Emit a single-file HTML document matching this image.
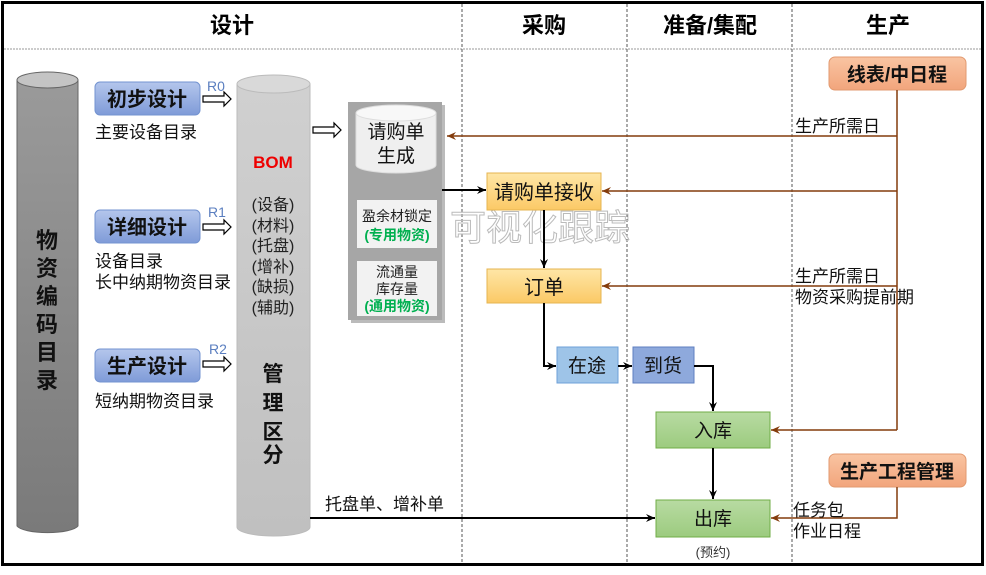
<!DOCTYPE html>
<html><head><meta charset="utf-8"><style>
body{margin:0;background:#fff}
svg text{font-family:"Liberation Sans","Noto Sans CJK SC",sans-serif}
</style></head><body>
<svg width="986" height="570" viewBox="0 0 986 570" xmlns="http://www.w3.org/2000/svg">
<defs>
<linearGradient id="gL" x1="0" y1="0" x2="0" y2="1"><stop offset="0" stop-color="#9a9a9a"/><stop offset="1" stop-color="#7a7a7a"/></linearGradient>
<linearGradient id="gB" x1="0" y1="0" x2="0" y2="1"><stop offset="0" stop-color="#d0d0d0"/><stop offset="1" stop-color="#c0c0c0"/></linearGradient>
<linearGradient id="gBl" x1="0" y1="0" x2="0" y2="1"><stop offset="0" stop-color="#b4c6ec"/><stop offset="1" stop-color="#7f9bd8"/></linearGradient>
<linearGradient id="gO" x1="0" y1="0" x2="0" y2="1"><stop offset="0" stop-color="#fee6a6"/><stop offset="1" stop-color="#fbc966"/></linearGradient>
<linearGradient id="gG" x1="0" y1="0" x2="0" y2="1"><stop offset="0" stop-color="#b8dba2"/><stop offset="1" stop-color="#9ccb7f"/></linearGradient>
<linearGradient id="gS" x1="0" y1="0" x2="0" y2="1"><stop offset="0" stop-color="#f9c4a2"/><stop offset="1" stop-color="#f2a57c"/></linearGradient>
<marker id="ak" markerWidth="10" markerHeight="10" refX="9" refY="5" orient="auto" markerUnits="userSpaceOnUse"><path d="M0,1 L9,5 L0,9 L3,5z" fill="#000"/></marker>
<marker id="ab" markerWidth="10" markerHeight="10" refX="9" refY="5" orient="auto" markerUnits="userSpaceOnUse"><path d="M0,1 L9,5 L0,9 L3,5z" fill="#843c0c"/></marker>
</defs>
<rect x="2.5" y="2.5" width="980" height="562" fill="#fff" stroke="#000" stroke-width="3"/>
<line x1="4" y1="49" x2="981" y2="49" stroke="#999" stroke-dasharray="2,1"/>
<g stroke="#555" stroke-dasharray="3,2"><line x1="462" y1="4" x2="462" y2="563"/><line x1="627" y1="4" x2="627" y2="563"/><line x1="792" y1="4" x2="792" y2="563"/></g>
<g font-size="22" font-weight="bold" text-anchor="middle" fill="#000"><text x="232" y="33">设计</text><text x="544" y="33">采购</text><text x="710" y="33">准备/集配</text><text x="888" y="33">生产</text></g>
<path d="M17,80 V526 A31,8 0 0 0 78,526 V80z" fill="url(#gL)" stroke="#666"/>
<ellipse cx="47.5" cy="80" rx="30.5" ry="8" fill="#c4c4c4" stroke="#666"/>
<g font-size="22" font-weight="bold" text-anchor="middle" fill="#111"><text x="47" y="248">物</text><text x="47" y="276">资</text><text x="47" y="304">编</text><text x="47" y="332">码</text><text x="47" y="360">目</text><text x="47" y="388">录</text></g>
<path d="M237,84 V527 A36.5,9 0 0 0 310,527 V84z" fill="url(#gB)" stroke="#bbb"/>
<ellipse cx="273.5" cy="84" rx="36.5" ry="9" fill="#d9d9d9" stroke="#bbb"/>
<text x="273" y="168" font-size="17" font-weight="bold" fill="#e00" text-anchor="middle">BOM</text>
<g font-size="16" fill="#222" text-anchor="middle"><text x="273" y="210">(设备)</text><text x="273" y="231">(材料)</text><text x="273" y="251">(托盘)</text><text x="273" y="272">(增补)</text><text x="273" y="292">(缺损)</text><text x="273" y="313">(辅助)</text></g>
<g font-size="21" font-weight="bold" text-anchor="middle" fill="#111"><text x="273" y="381">管</text><text x="273" y="410">理</text><text x="273" y="439">区</text><text x="273" y="462">分</text></g>
<g stroke="#7393d0" fill="url(#gBl)"><rect x="95" y="82" width="105" height="33" rx="5"/><rect x="95" y="210" width="105" height="33" rx="5"/><rect x="95" y="349" width="105" height="33" rx="5"/></g>
<g font-size="20" font-weight="bold" text-anchor="middle" fill="#111"><text x="147" y="106">初步设计</text><text x="147" y="234">详细设计</text><text x="147" y="373">生产设计</text></g>
<g font-size="14" fill="#5b7fc0"><text x="207" y="91">R0</text><text x="208" y="217">R1</text><text x="209" y="354">R2</text></g>
<g font-size="17" fill="#111"><text x="95" y="138">主要设备目录</text><text x="95" y="267">设备目录</text><text x="95" y="288">长中纳期物资目录</text><text x="95" y="407">短纳期物资目录</text></g>
<g fill="#fff" stroke="#000" stroke-width="1.2">
<path d="M203,96 H224 V92 L231,99 L224,106 V102 H203z"/>
<path d="M203,224 H224 V220 L231,227 L224,234 V230 H203z"/>
<path d="M203,361 H224 V357 L231,364 L224,371 V367 H203z"/>
<path d="M313,127 H334 V123 L341,130 L334,137 V133 H313z"/>
<path d="M392,183 V178 H389 L395,172 L401,178 H398 V190 H401 L395,196 L389,190 H392z"/>
</g>
<rect x="351" y="105" width="94" height="218" fill="#bbb"/>
<rect x="348" y="102" width="94" height="218" fill="#a6a6a6"/>
<path d="M356,113 V165 A40,8 0 0 0 436,165 V113z" fill="#efefef" stroke="#ddd"/>
<ellipse cx="396" cy="113" rx="40" ry="8" fill="#f8f8f8" stroke="#ddd"/>
<text x="396" y="138" font-size="19" text-anchor="middle" fill="#111">请购单</text>
<text x="396" y="162" font-size="19" text-anchor="middle" fill="#111">生成</text>
<rect x="357" y="200" width="80" height="48" fill="#f2f2f2"/>
<rect x="357" y="261" width="80" height="55" fill="#f2f2f2"/>
<text x="397" y="221" font-size="14" text-anchor="middle" fill="#222">盈余材锁定</text>
<text x="397" y="240" font-size="14" font-weight="bold" text-anchor="middle" fill="#00b050">(专用物资)</text>
<text x="397" y="277" font-size="14" text-anchor="middle" fill="#222">流通量</text>
<text x="397" y="294" font-size="14" text-anchor="middle" fill="#222">库存量</text>
<text x="397" y="311" font-size="14" font-weight="bold" text-anchor="middle" fill="#00b050">(通用物资)</text>
<text x="450" y="240" font-size="36" fill="none" stroke="#bbb" stroke-width="1" text-anchor="start">可视化跟踪</text>
<g stroke="#e6b450" fill="url(#gO)"><rect x="487" y="173" width="114" height="37"/><rect x="487" y="269" width="114" height="34"/></g>
<text x="544" y="199" font-size="20" text-anchor="middle" fill="#111">请购单接收</text>
<text x="544" y="294" font-size="20" text-anchor="middle" fill="#111">订单</text>
<rect x="557" y="347" width="61" height="36" fill="#9ec4e8" stroke="#6ea0d8"/>
<rect x="633" y="347" width="61" height="36" fill="#8ea9dc" stroke="#5f7fc0"/>
<text x="587" y="372" font-size="19" text-anchor="middle" fill="#111">在途</text>
<text x="663" y="372" font-size="19" text-anchor="middle" fill="#111">到货</text>
<g stroke="#70ad47" fill="url(#gG)"><rect x="656" y="412" width="114" height="36"/><rect x="656" y="500" width="114" height="37"/></g>
<text x="713" y="437" font-size="19" text-anchor="middle" fill="#111">入库</text>
<text x="713" y="525" font-size="19" text-anchor="middle" fill="#111">出库</text>
<text x="713" y="557" font-size="13" text-anchor="middle" fill="#333">(预约)</text>
<g stroke="#000" stroke-width="2" fill="none">
<line x1="442" y1="190" x2="486" y2="190" marker-end="url(#ak)"/>
<line x1="544" y1="210" x2="544" y2="268" marker-end="url(#ak)"/>
<path d="M544,303 V366 H556" marker-end="url(#ak)"/>
<line x1="618" y1="366" x2="632" y2="366" marker-end="url(#ak)"/>
<path d="M694,366 H713 V411" marker-end="url(#ak)"/>
<line x1="713" y1="448" x2="713" y2="499" marker-end="url(#ak)"/>
<line x1="310" y1="518" x2="655" y2="518" marker-end="url(#ak)"/>
</g>
<text x="325" y="510" font-size="17" fill="#111">托盘单、增补单</text>
<rect x="829" y="57" width="137" height="33" rx="6" fill="url(#gS)" stroke="#e29a70"/>
<text x="897" y="81" font-size="19" font-weight="bold" text-anchor="middle" fill="#111">线表/中日程</text>
<rect x="829" y="454" width="137" height="33" rx="6" fill="url(#gS)" stroke="#e29a70"/>
<text x="897" y="478" font-size="19" font-weight="bold" text-anchor="middle" fill="#111">生产工程管理</text>
<g stroke="#843c0c" stroke-width="1.5" fill="none">
<line x1="897" y1="90" x2="897" y2="430"/>
<line x1="897" y1="136" x2="447" y2="136" marker-end="url(#ab)"/>
<line x1="897" y1="191" x2="602" y2="191" marker-end="url(#ab)"/>
<line x1="897" y1="286" x2="602" y2="286" marker-end="url(#ab)"/>
<line x1="897" y1="430" x2="771" y2="430" marker-end="url(#ab)"/>
<path d="M897,487 V518 H771" marker-end="url(#ab)"/>
</g>
<g font-size="17" fill="#111"><text x="795" y="132">生产所需日</text><text x="795" y="282">生产所需日</text><text x="795" y="303">物资采购提前期</text><text x="793" y="516">任务包</text><text x="793" y="537">作业日程</text></g>
</svg>
</body></html>
